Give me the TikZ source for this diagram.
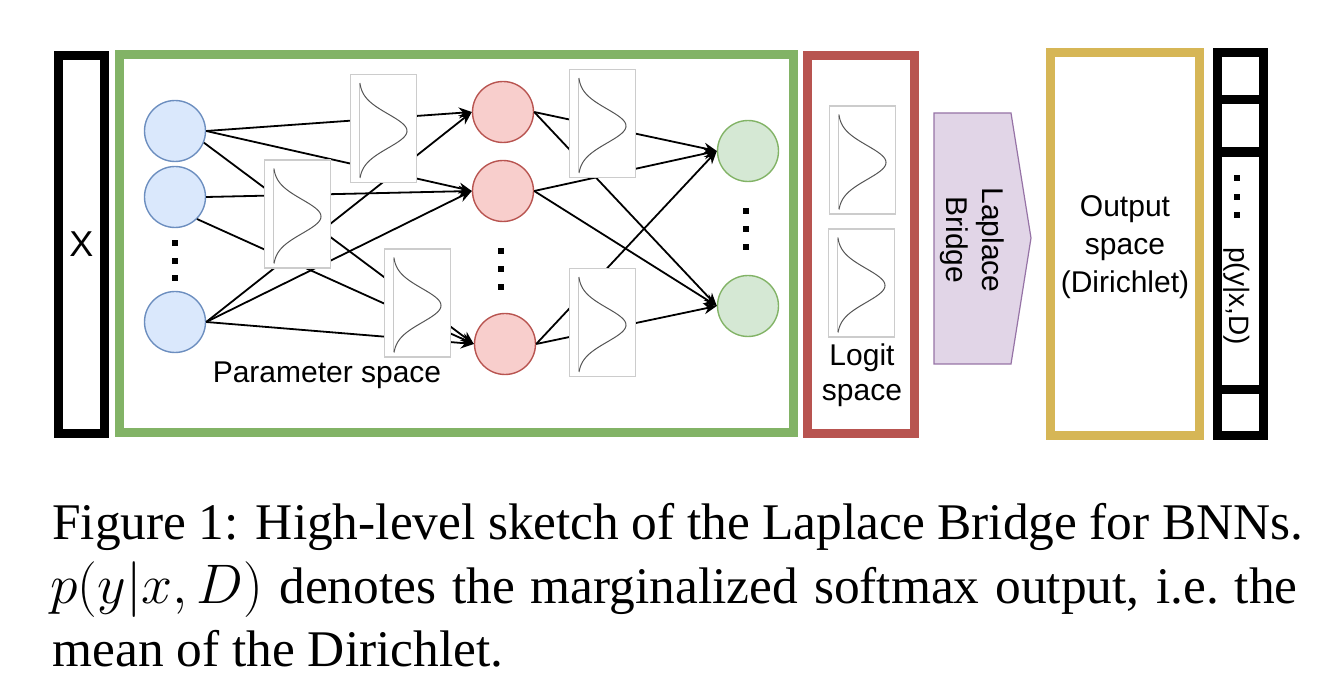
\documentclass[tikz,border=0pt]{standalone}
\usepackage{fontspec}
\usepackage{graphicx}
\setmainfont{Liberation Serif}
\newfontfamily\arialfont{Liberation Sans}
\usetikzlibrary{arrows.meta}
\definecolor{grnline}{HTML}{82B366}
\definecolor{grnfill}{HTML}{D5E8D4}
\definecolor{redline}{HTML}{B85450}
\definecolor{redfill}{HTML}{F8CECC}
\definecolor{bluline}{HTML}{6C8EBF}
\definecolor{blufill}{HTML}{DAE8FC}
\definecolor{yelline}{HTML}{D6B656}
\definecolor{purline}{HTML}{9673A6}
\definecolor{purfill}{HTML}{E1D5E7}
\definecolor{boxgray}{HTML}{CCCCCC}
\definecolor{axisgray}{HTML}{C8C8C8}
\definecolor{curvegray}{HTML}{555555}
\newcommand\gausscurve[1]{%
  \begin{scope}[shift={(#1.center)}]
    \draw[axisgray, line width=0.5pt] (-24.5,-44) -- (-24.5,49);
    \draw[curvegray, line width=0.5pt] plot[domain=-45.5:49.5, samples=70, smooth]
      ({-24.5+48*exp(-((\x-2.5)*(\x-2.5))/578)}, {\x});
  \end{scope}}
\begin{document}
\begin{tikzpicture}[x=0.5pt,y=-0.5pt,
  frame/.style={line width=4.5pt, inner sep=0pt},
  neuron/.style={circle, minimum size=30.5pt, inner sep=0pt, line width=0.7pt},
  bneuron/.style={neuron, draw=bluline, fill=blufill},
  rneuron/.style={neuron, draw=redline, fill=redfill},
  gneuron/.style={neuron, draw=grnline, fill=grnfill},
  distbox/.style={draw=boxgray, fill=white, line width=0.6pt, minimum width=33pt, minimum height=54pt, inner sep=0pt},
  edge/.style={line width=0.9pt, -{Stealth[length=6.5pt,width=5.5pt]}},
  lbl/.style={font=\arialfont\fontsize{15}{18}\selectfont, align=center, inner sep=0pt},
  dotsq/.style={fill=black, minimum size=3pt, inner sep=0pt},
  cell/.style={fill=white, inner sep=0pt, minimum width=18.5pt},
  captext/.style={anchor=base west, inner sep=0pt, font=\fontsize{25.7}{31}\selectfont}]
\useasboundingbox (0,0) rectangle (1340,694);

% frames
\node[frame, draw=black, minimum width=23pt, minimum height=189pt, font=\arialfont\fontsize{18}{21}\selectfont] (xbox) at (81.5,244.5) {X};
\node[frame, draw=grnline, minimum width=337pt, minimum height=189pt] (param) at (456.5,243.5) {};
\node[frame, draw=redline, minimum width=53.5pt, minimum height=189pt] (logitbox) at (861,245) {};
\node[frame, draw=yelline, minimum width=74.25pt, minimum height=191.5pt] (outbox) at (1124.75,244) {};

% output column
\node[fill=black, minimum width=27.5pt, minimum height=196pt, inner sep=0pt] (col) at (1240.5,244) {};
\node[cell, minimum height=19pt] (c1) at (1240.5,76) {};
\node[cell, minimum height=21.5pt] (c2) at (1240.5,125.5) {};
\node[cell, minimum height=114pt] (c3) at (1240.5,271) {};
\node[cell, minimum height=18.5pt] (c4) at (1240.5,412.5) {};
\node[dotsq] (cd1) at (1237,178) {};
\node[dotsq] (cd2) at (1237,197) {};
\node[dotsq] (cd3) at (1237,215) {};
\node[lbl, rotate=-90, font=\arialfont\fontsize{14}{17}\selectfont] (pyx) at (1237,296) {p(y|x,D)};

% neurons
\node[bneuron] (b1) at (175,131) {};
\node[bneuron] (b2) at (175,197) {};
\node[bneuron] (b3) at (175,322) {};
\node[rneuron] (r1) at (503,112) {};
\node[rneuron] (r2) at (503,191) {};
\node[rneuron] (r3) at (505,344) {};
\node[gneuron] (g1) at (748,151) {};
\node[gneuron] (g2) at (748,306) {};

\node[dotsq] (bd1) at (175,243) {};
\node[dotsq] (bd2) at (175,261) {};
\node[dotsq] (bd3) at (175,278) {};
\node[dotsq] (rd1) at (501,251) {};
\node[dotsq] (rd2) at (501,269) {};
\node[dotsq] (rd3) at (501,287) {};
\node[dotsq] (gd1) at (746,211) {};
\node[dotsq] (gd2) at (746,229) {};
\node[dotsq] (gd3) at (746,247) {};

% edges layer 1
\draw[edge] (b1.east) -- (r1.west);
\draw[edge] (b1.east) -- (r2.west);
\draw[edge] (b1.-22) -- (r3.west);
\draw[edge] (b2.east) -- (r2.west);
\draw[edge] (b2.-45) -- (r3.west);
\draw[edge] (b3.east) -- (r1.west);
\draw[edge] (b3.east) -- (r2.west);
\draw[edge] (b3.east) -- (r3.west);
% edges layer 2
\draw[edge] (r1.east) -- (g1.west);
\draw[edge] (r1.east) -- (g2.west);
\draw[edge] (r2.east) -- (g1.west);
\draw[edge] (r2.east) -- (g2.west);
\draw[edge] (r3.east) -- (g1.west);
\draw[edge] (r3.east) -- (g2.west);

% distribution boxes (on top of edges)
\node[distbox] (dA) at (383.5,128.5) {};
\node[distbox] (dB) at (297.5,214) {};
\node[distbox] (dC) at (417.5,303) {};
\node[distbox] (dD) at (602.5,123.5) {};
\node[distbox] (dE) at (602.5,322.5) {};
\node[distbox] (dL1) at (862.5,160) {};
\node[distbox] (dL2) at (861.5,283) {};
\gausscurve{dA}
\gausscurve{dB}
\gausscurve{dC}
\gausscurve{dD}
\gausscurve{dE}
\gausscurve{dL1}
\gausscurve{dL2}

\node[lbl] (ptext) at (327,375) {Parameter space};
\node[lbl, font=\arialfont\fontsize{15}{17.5}\selectfont] (ltext) at (862,375.5) {Logit\\space};

% Laplace bridge
\draw[draw=purline, fill=purfill, line width=0.6pt] (934,113) -- (1011,113) -- (1031,238) -- (1011,364) -- (934,364) -- cycle;
\node[lbl, rotate=-90] (lb) at (972,240) {Laplace\\Bridge};

\node[lbl, font=\arialfont\fontsize{15}{19}\selectfont] (otext) at (1125,247) {Output\\space\\(Dirichlet)};

% caption
\node[captext] (cap1) at (52,540) {\hbox to 625.5pt{Figure 1: High-level sketch of the Laplace Bridge for BNNs.}};
\node[captext] (cap2) at (50,603.5) {\hbox to 623.5pt{\scalebox{1.12}{$p(y|x, D)$} denotes the marginalized softmax output, i.e.\ the}};
\node[captext] (cap3) at (52,667) {mean of the Dirichlet.};
\end{tikzpicture}
\end{document}
